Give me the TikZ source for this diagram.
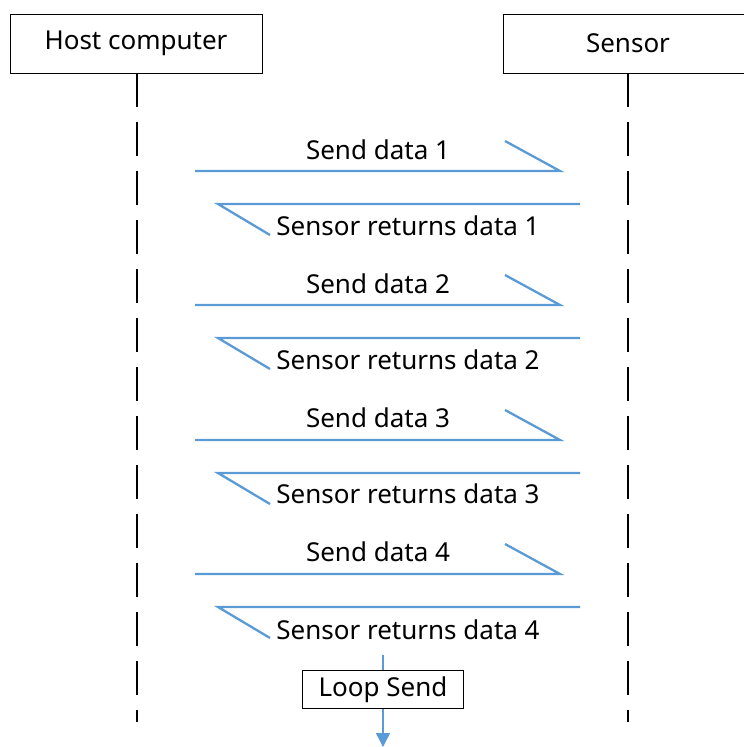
\documentclass[tikz,border=0pt]{standalone}
\usepackage{fontspec}
\setmainfont{Noto Sans}
\usetikzlibrary{arrows.meta,positioning,calc}

\definecolor{msgblue}{HTML}{5B9BD5}

\begin{document}
\begin{tikzpicture}[
  x=1pt, y=-1pt,
  actor/.style={
    draw, rectangle, line width=0.9pt,
    minimum height=59pt, inner sep=0pt,
    font=\fontsize{26}{31}\selectfont
  },
  life/.style={line width=2.4pt, dash pattern=on 34pt off 15pt},
  msg/.style={draw=msgblue, line width=2.3pt},
  lbl/.style={font=\fontsize{26}{31}\selectfont, inner sep=0pt},
  loopbox/.style={
    draw, rectangle, line width=0.9pt,
    minimum width=161pt, minimum height=38pt,
    font=\fontsize{26}{31}\selectfont
  },
]
\useasboundingbox (0,0) rectangle (744,747);

\node[actor, minimum width=252pt] (host) at (136,43.5) {Host computer};
\node[actor, minimum width=250pt] (sensor) at (628,43.5) {Sensor};

%% lifelines
\coordinate (hostend) at (137,722);
\coordinate (sensorend) at (628,722);
\draw[life] (host.south -| hostend) -- (hostend);
\draw[life] (sensor.south -| sensorend) -- (sensorend);

%% round 1
\coordinate (s1a) at (195,171);
\coordinate (s1b) at (560,171);
\draw[msg] (s1a) -- (s1b) -- ++(-55,-30);
\node[lbl] (send1) at (378,150) {Send data 1};
\coordinate (r1a) at (580,204);
\coordinate (r1b) at (218,204);
\draw[msg] (r1a) -- (r1b) -- ++(52,31);
\node[lbl] (ret1) at (408,226) {Sensor returns data 1};

%% round 2
\coordinate (s2a) at (195,305);
\coordinate (s2b) at (560,305);
\draw[msg] (s2a) -- (s2b) -- ++(-55,-30);
\node[lbl] (send2) at (378,284) {Send data 2};
\coordinate (r2a) at (580,338);
\coordinate (r2b) at (218,338);
\draw[msg] (r2a) -- (r2b) -- ++(52,31);
\node[lbl] (ret2) at (408,360) {Sensor returns data 2};

%% round 3
\coordinate (s3a) at (195,440);
\coordinate (s3b) at (560,440);
\draw[msg] (s3a) -- (s3b) -- ++(-55,-30);
\node[lbl] (send3) at (378,418) {Send data 3};
\coordinate (r3a) at (580,473);
\coordinate (r3b) at (218,473);
\draw[msg] (r3a) -- (r3b) -- ++(52,31);
\node[lbl] (ret3) at (408,494) {Sensor returns data 3};

%% round 4
\coordinate (s4a) at (195,574);
\coordinate (s4b) at (560,574);
\draw[msg] (s4a) -- (s4b) -- ++(-55,-30);
\node[lbl] (send4) at (378,552) {Send data 4};
\coordinate (r4a) at (580,607);
\coordinate (r4b) at (218,607);
\draw[msg] (r4a) -- (r4b) -- ++(52,31);
\node[lbl] (ret4) at (408,630) {Sensor returns data 4};

%% loop
\node[loopbox] (loop) at (383,689.5) {Loop Send};
\coordinate (looptop) at (383,655);
\coordinate (loopend) at (383,747);
\draw[msgblue, line width=1.5pt] (looptop) -- (loop.north);
\draw[msgblue, line width=1.5pt, -{Triangle[width=14pt,length=14pt]}]
  (loop.south) -- (loopend);
\end{tikzpicture}
\end{document}
